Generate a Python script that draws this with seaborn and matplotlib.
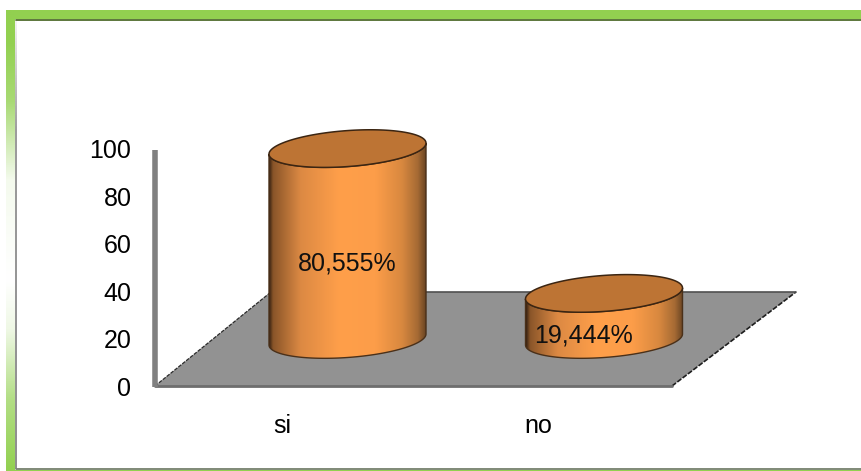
import numpy as np
import pandas as pd
import matplotlib
matplotlib.use("Agg")
import matplotlib.pyplot as plt
from matplotlib.colors import LinearSegmentedColormap, to_rgb
from matplotlib.patches import Polygon
import seaborn as sns

# Survey answers and their shares
categories = ["si", "no"]
values = [80.555, 19.444]
labels = ["80,555%", "19,444%"]
y_ticks = [0, 20, 40, 60, 80, 100]

W, H = 862, 471
GREEN = "#92d050"
FONT = "Liberation Sans"

sns.set_theme(style="white")
plt.rcParams["font.family"] = [FONT, "DejaVu Sans"]

fig = plt.figure(figsize=(W / 100, H / 100), dpi=100, facecolor="white")


def pixel_axes(left, right, top, bottom, **kw):
    """Axes placed by pixel edges, measured from the top-left of the figure."""
    return fig.add_axes([left / W, 1 - bottom / H, (right - left) / W, (bottom - top) / H], **kw)


# Page frame: solid green top and bottom, left strip fading out midway
frame = pixel_axes(0, W, 0, H, zorder=0)
frame.axis("off")
frame.fill_between([6, W], 10, 19, color=GREEN, lw=0)
frame.plot([16, W], [19.5, 19.5], color="#4f6b2c", lw=1.3)
frame.plot([16, W], [469, 469], color="#5c6a52", lw=1.1)
frame.fill_between([6, W], 469.7, 471, color=GREEN, lw=0)
strip_y = np.linspace(10, 471, 256)
strip = np.interp(strip_y, [10, 40, 100, 140, 180, 280, 330, 400, 471], [1, 1, 0.8, 0.45, 0.1, 0, 0.15, 0.7, 1])
strip_rgb = np.array(to_rgb(GREEN)) * strip[:, None] + (1 - strip[:, None])
frame.imshow(strip_rgb[:, None, :], extent=[6, 15, 471, 10], aspect="auto", zorder=1)
edge_y = np.linspace(20, 469, 256)
edge_alpha = np.interp(edge_y, [20, 130, 469], [0.1, 0.8, 0.9])
for y0, y1, a in zip(edge_y[:-1], edge_y[1:], edge_alpha):
    frame.plot([15.7, 15.7], [y0, y1], color="#808080", alpha=a, lw=1.4, solid_capstyle="butt")

# Front axes: value scale on the left, category names under the floor
ax = pixel_axes(155, 667, 149, 386, zorder=1)
ax.patch.set_alpha(0)
ax.set_ylim(0, 100)
px_per_cat = 538 - 282
ax.set_xlim(-(282 - 155) / px_per_cat, (667 - 282) / px_per_cat)
ax.set_xticks(range(len(categories)), categories)
ax.set_yticks(y_ticks, [str(t) for t in y_ticks])
ax.tick_params(axis="y", labelsize=18, length=0, pad=17, colors="black")
ax.tick_params(axis="x", labelsize=18, length=0, pad=20, colors="black")
sns.despine(ax=ax, top=True, right=True, bottom=True, left=True)

# Grey floor and the value axis line, drawn in pixel space
frame.add_patch(Polygon([(155, 386), (672, 386), (796, 292), (271, 292)], closed=True,
                        facecolor="#929292", edgecolor="none", zorder=2))
frame.plot([155, 271], [386, 292], color="#2b2b2b", lw=0.9, ls=(0, (3, 1)), zorder=3)
frame.plot([672, 796], [386, 292], color="#1e1e1e", lw=1.2, ls=(0, (3, 1)), zorder=3)
frame.plot([271, 796], [292, 292], color="#505050", lw=1.2, zorder=3)
frame.plot([155, 672], [386, 386], color="#6e6e6e", lw=2.0, zorder=3)
frame.plot([155, 155], [150, 387], color="#808080", lw=4, solid_capstyle="butt", zorder=3)
frame.set_xlim(0, W)
frame.set_ylim(H, 0)

# Cylinder axes: same value scale, with zero lifted onto the middle of the floor
bar_ax = pixel_axes(0, W, 0, H, zorder=2)
bar_ax.patch.set_alpha(0)
PX_PER_UNIT = (386 - 149) / 100
BASE_PX = 339.5
cat_step = 604 - 347.5
data = pd.DataFrame({"answer": categories, "share": values})
sns.barplot(data=data, x="answer", y="share", ax=bar_ax, width=157 / cat_step,
            color="#ff9f4a", saturation=1, linewidth=0, legend=False)
bar_ax.axis("off")

body_cmap = LinearSegmentedColormap.from_list(
    "cyl", [(0, "#3a2412"), (0.025, "#8a5529"), (0.2, "#dc8943"), (0.45, "#ff9f4a"),
            (0.68, "#fc9d49"), (0.85, "#d8883f"), (0.95, "#a56a34"), (1, "#6b4523")])

label_shift_px = [0, -20]
for bar, label, shift in zip(list(bar_ax.patches), labels, label_shift_px):
    x0, w, h = bar.get_x(), bar.get_width(), bar.get_height()
    cx = x0 + w / 2
    a = w / 2
    b = 18 / PX_PER_UNIT
    tilt = 5.5 / PX_PER_UNIT
    t = np.linspace(0, 2 * np.pi, 241)
    ex = cx + a * np.cos(t)
    ey = b * np.sin(t) + tilt * np.cos(t)
    lower = t >= np.pi
    outline = np.r_[np.c_[ex[lower], ey[lower]],
                    np.c_[ex[lower][::-1], ey[lower][::-1] + h]]
    bar.set_visible(False)

    body = Polygon(outline, closed=True, transform=bar_ax.transData, facecolor="none",
                   edgecolor="#4a3019", lw=1.0, zorder=4)
    bar_ax.add_patch(body)
    grad = body_cmap(np.linspace(0, 1, 256))[None, :, :]
    im = bar_ax.imshow(grad, extent=[x0, x0 + w, -30, h + 30], aspect="auto", zorder=3)
    im.set_clip_path(body)

    bar_ax.fill(ex, ey + h, facecolor="#bd7434", edgecolor="#3b2512", lw=1.1, zorder=5)
    bar_ax.text(cx + shift / cat_step, h * 0.5 - 19.5 / PX_PER_UNIT, label,
                ha="center", va="center", fontsize=18, color="#111111", zorder=6)

bar_ax.set_xlim(-347.5 / cat_step, (W - 347.5) / cat_step)
bar_ax.set_ylim((BASE_PX - H) / PX_PER_UNIT, BASE_PX / PX_PER_UNIT)

fig.savefig("out.png", dpi=100)
